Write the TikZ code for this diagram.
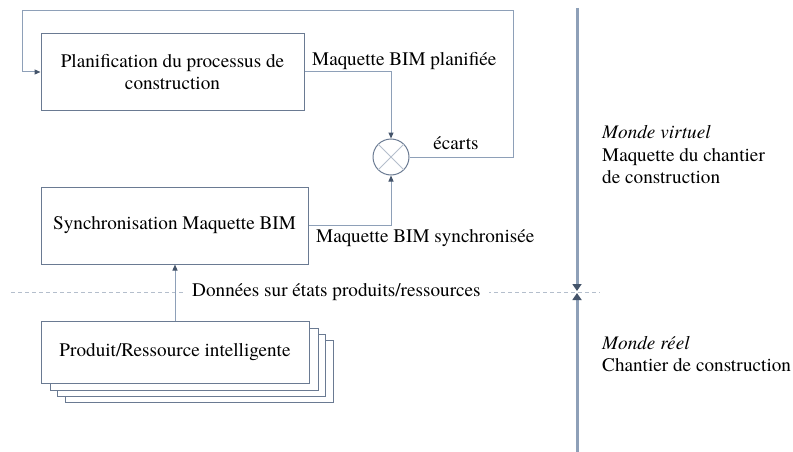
\documentclass[tikz,border=0pt]{standalone}
\usepackage{fontspec}
\setmainfont{TeX Gyre Termes}
\usetikzlibrary{arrows.meta,calc}
\definecolor{linec}{HTML}{8EA0B8}
\definecolor{boxc}{HTML}{6A7A92}
\definecolor{tipc}{HTML}{44546A}
\definecolor{dashc}{HTML}{B4BECC}
\begin{document}
\begin{tikzpicture}[x=1pt,y=-1pt,
  every node/.style={font=\fontsize{19.2}{22.5}\selectfont, text=black},
  blk/.style={draw=boxc, line width=1pt, fill=white, rectangle, inner sep=0pt},
  conn/.style={draw=linec, line width=1pt},
  arr/.style={conn, -{Triangle[length=6pt,width=5pt,color=tipc]}},
  lbl/.style={inner sep=0pt, anchor=west},
  sepline/.style={draw=dashc, line width=1pt, dash pattern=on 4pt off 3pt}]
\useasboundingbox (0,0) rectangle (793,452);
% boxes
\node[blk, minimum width=263pt, minimum height=76pt, align=center] (plan) at (172.5,72) {Planification du processus de\\construction};
\node[blk, minimum width=267pt, minimum height=77pt] (sync) at (174.5,225.5) {Synchronisation Maquette BIM};
% stacked product boxes
\node[blk, minimum width=268pt, minimum height=62pt] (s3) at (199,371) {};
\node[blk, minimum width=268pt, minimum height=62pt] (s2) at (191.5,365) {};
\node[blk, minimum width=268pt, minimum height=62pt] (s1) at (184,359) {};
\node[blk, minimum width=268pt, minimum height=62pt] (prod) at (175,352) {Produit/Ressource intelligente};
% comparator
\node[draw=boxc, line width=1pt, circle, minimum size=36pt, inner sep=0pt] (cmp) at (391,157) {};
\draw[draw=dashc, line width=0.8pt] (cmp.north west) -- (cmp.south east) (cmp.north east) -- (cmp.south west);
% coordinates
\coordinate (tr) at (513,11);
\coordinate (tl) at (22,11);
% connectors
\draw[arr] (plan.east) -- (plan.east -| cmp.north) -- (cmp.north);
\draw[arr] (sync.east) -- (sync.east -| cmp.south) -- (cmp.south);
\draw[arr] (cmp.east) -- (cmp.east -| tr) -- (tr) -- (tl) -- (tl |- plan.west) -- (plan.west);
% separator dashed line
\coordinate (dl) at (11,292);
\coordinate (dr) at (600,292);
\draw[sepline] (dl) -- (dr);
\draw[arr] (prod.north) -- (prod.north |- sync.south);
% labels
\node[lbl] (lplan) at (312,61) {Maquette BIM planifiée};
\node[inner sep=0pt] (lecart) at (456,143) {écarts};
\node[lbl] (lsync) at (316,238) {Maquette BIM synchronisée};
\node[lbl, fill=white, inner xsep=8pt, inner ysep=3pt] (ldata) at (184,292) {Données sur états produits/ressources};
% world separator
\coordinate (vt) at (577,8);
\coordinate (vm1) at (577,291);
\coordinate (vm2) at (577,293);
\coordinate (vb) at (577,452);
\draw[draw=linec, line width=3pt, -{Triangle[length=7pt,width=9pt,color=tipc]}] (vt) -- (vm1);
\draw[draw=linec, line width=3pt, -{Triangle[length=7pt,width=9pt,color=tipc]}] (vb) -- (vm2);
\node[lbl, align=left] (virt) at (602,155) {\textit{Monde virtuel}\\Maquette du chantier\\de construction};
\node[lbl, align=left] (reel) at (602,354) {\textit{Monde réel}\\Chantier de construction};
\end{tikzpicture}
\end{document}
